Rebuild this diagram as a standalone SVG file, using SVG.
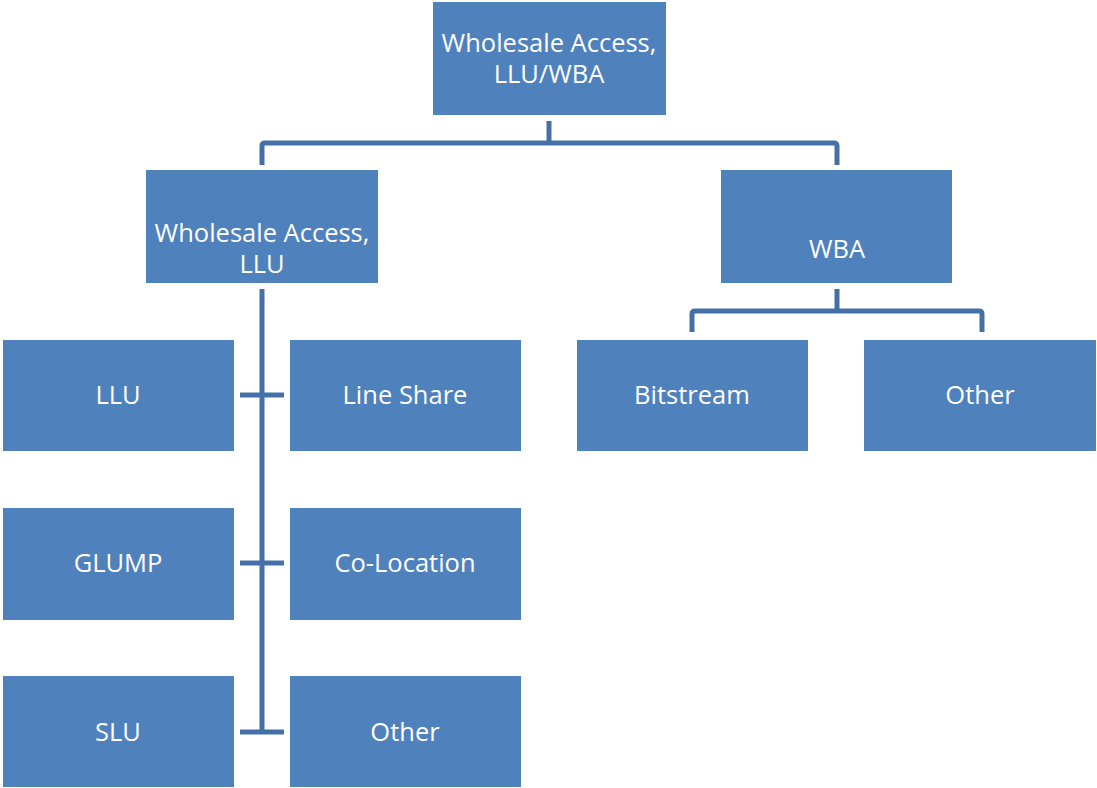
<svg xmlns="http://www.w3.org/2000/svg" width="1097" height="788" viewBox="0 0 1097 788">
  <style>
    .box { fill: #4F81BD; }
    .lbl { font-family: "Open Sans", Lato, sans-serif; font-size: 25.5px; fill: #FFFFFF; text-anchor: middle; }
    .wire { fill: none; stroke: #4470A8; stroke-width: 5; stroke-linejoin: round; }
  </style>
  <rect width="1097" height="788" fill="#FFFFFF"/>

  <!-- connectors -->
  <g id="connectors">
    <path class="wire" d="M549 121 V143"/>
    <path class="wire" d="M262 165 V146 Q262 143 265 143 H834 Q837 143 837 146 V165"/>
    <path class="wire" d="M262 289 V732"/>
    <path class="wire" d="M240 395 H284"/>
    <path class="wire" d="M240 563 H284"/>
    <path class="wire" d="M240 732 H284"/>
    <path class="wire" d="M837 289 V311"/>
    <path class="wire" d="M692 332 V314 Q692 311 695 311 H979 Q982 311 982 314 V332"/>
  </g>

  <g id="root">
    <rect class="box" x="433" y="2" width="233" height="113"/>
    <text class="lbl" x="549" y="52">Wholesale Access,</text>
    <text class="lbl" x="549" y="83">LLU/WBA</text>
  </g>

  <g id="llu-group">
    <rect class="box" x="146" y="170" width="232" height="113"/>
    <text class="lbl" x="262" y="242">Wholesale Access,</text>
    <text class="lbl" x="262" y="273">LLU</text>
  </g>

  <g id="wba">
    <rect class="box" x="721" y="170" width="231" height="113"/>
    <text class="lbl" x="837" y="258">WBA</text>
  </g>

  <g id="llu">
    <rect class="box" x="3" y="340" width="231" height="111"/>
    <text class="lbl" x="118" y="404">LLU</text>
  </g>
  <g id="line-share">
    <rect class="box" x="290" y="340" width="231" height="111"/>
    <text class="lbl" x="405" y="404">Line Share</text>
  </g>
  <g id="glump">
    <rect class="box" x="3" y="508" width="231" height="112"/>
    <text class="lbl" x="118" y="572">GLUMP</text>
  </g>
  <g id="co-location">
    <rect class="box" x="290" y="508" width="231" height="112"/>
    <text class="lbl" x="405" y="572">Co-Location</text>
  </g>
  <g id="slu">
    <rect class="box" x="3" y="676" width="231" height="111"/>
    <text class="lbl" x="118" y="741">SLU</text>
  </g>
  <g id="llu-other">
    <rect class="box" x="290" y="676" width="231" height="111"/>
    <text class="lbl" x="405" y="741">Other</text>
  </g>
  <g id="bitstream">
    <rect class="box" x="577" y="340" width="231" height="111"/>
    <text class="lbl" x="692" y="404">Bitstream</text>
  </g>
  <g id="wba-other">
    <rect class="box" x="864" y="340" width="232" height="111"/>
    <text class="lbl" x="980" y="404">Other</text>
  </g>
</svg>
